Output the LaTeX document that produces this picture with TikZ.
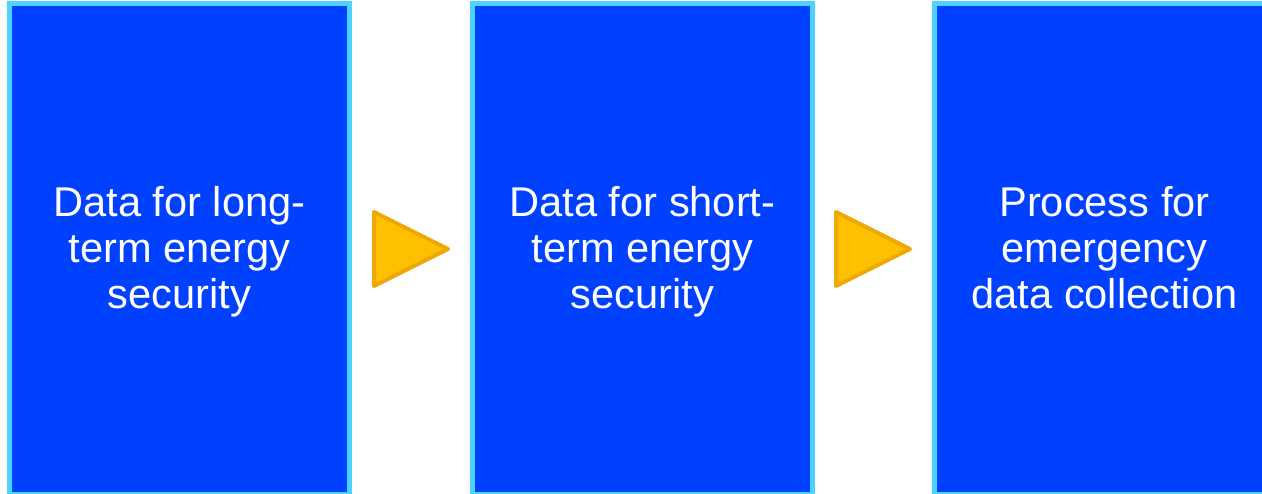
\documentclass[tikz,border=0pt]{standalone}
\usepackage{fontspec}
\setmainfont{Liberation Sans}
\definecolor{boxblue}{HTML}{0041FF}
\definecolor{boxedge}{HTML}{4DD3FF}
\definecolor{trifill}{HTML}{FFC000}
\definecolor{triedge}{HTML}{EEA800}
\tikzset{
  stagebox/.style={rectangle, draw=boxedge, fill=boxblue, line width=5pt,
    minimum width=340pt, minimum height=491pt, inner sep=0pt, outer sep=0pt},
  stagetext/.style={inner sep=0pt, text=white, align=center,
    font=\fontsize{41.6}{46}\selectfont},
  arrowtri/.style={draw=triedge, fill=trifill, line width=4pt, line join=round}
}
\begin{document}
\begin{tikzpicture}[x=1pt,y=-1pt]
\useasboundingbox (0,0) rectangle (1262,494);
\begin{scope}
\clip (0,0) rectangle (1262,494);
\node[stagebox] (b1) at (179.5,249) {};
\node[stagebox] (b2) at (642.5,249) {};
\node[stagebox] (b3) at (1104.5,249) {};
\end{scope}
\node[stagetext] (t1) at ([yshift=-4.5pt]b1.center) {\strut Data for long-\\term energy\\\strut security};
\node[stagetext] (t2) at ([yshift=-4.5pt]b2.center) {\strut Data for short-\\term energy\\\strut security};
\node[stagetext] (t3) at ([yshift=-4.5pt]b3.center) {\strut Process for\\emergency\\\strut data collection};
\draw[arrowtri] (374,212) -- (448,249) -- (374,286) -- cycle;
\draw[arrowtri] (836,212) -- (910,249) -- (836,286) -- cycle;
\end{tikzpicture}
\end{document}
